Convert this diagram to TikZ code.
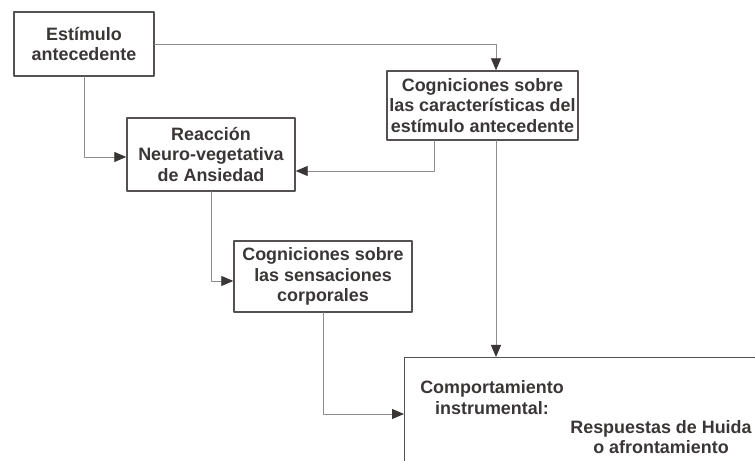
\documentclass[tikz,border=0pt]{standalone}
\usepackage{fontspec}
\setmainfont{Liberation Sans}
\usetikzlibrary{arrows.meta}
\definecolor{txtgray}{HTML}{3A3636}
\definecolor{boxgray}{HTML}{565151}
\definecolor{linegray}{HTML}{8C8C8C}
\tikzset{caja/.style={draw=boxgray, line width=0.8pt, align=center, inner sep=0pt,
    text=txtgray, font=\bfseries\fontsize{10.2}{11.6}\selectfont},
  texto/.style={align=center, inner sep=0pt, text=txtgray, font=\bfseries\fontsize{10.2}{11.6}\selectfont},
  flecha/.style={draw=linegray, line width=0.5pt, -{Triangle[length=0.24cm,width=0.2cm,color=txtgray]}}}
\begin{document}
\begin{tikzpicture}[line cap=round, line join=round]
	\useasboundingbox (0,0) rectangle (15.1,9.22);
	\clip (0,0) rectangle (15.1,9.22);
	% cajas
	\node[caja, minimum width=2.8cm, minimum height=1.28cm] (estimulo) at (1.68,8.34) {Estímulo\\antecedente};
	\node[caja, minimum width=3.82cm, minimum height=1.38cm] (cogest) at (9.65,7.11) {Cogniciones sobre\\las características del\\estímulo antecedente};
	\node[caja, minimum width=3.36cm, minimum height=1.46cm] (reaccion) at (4.22,6.13) {Reacción\\Neuro-vegetativa\\de Ansiedad};
	\node[caja, minimum width=3.56cm, minimum height=1.42cm] (sensac) at (6.46,3.69) {Cogniciones sobre\\las sensaciones\\corporales};
	\node[caja, minimum width=8cm, minimum height=3cm, anchor=north west] (instr) at (8.08,2.08) {};
	\node[texto] (comp) at (9.84,1.27) {Comportamiento\\instrumental:};
	\node[texto] (resp) at (13.22,0.48) {Respuestas de Huida\\o afrontamiento};
	% conectores
	\coordinate (bajaB) at ([xshift=0.27cm]cogest.south);
	\coordinate (bajaB2) at ([xshift=-0.97cm]cogest.south);
	\draw[flecha] (estimulo.east) -| ([xshift=0.27cm]cogest.north);
	\draw[flecha] (estimulo.south) |- ([yshift=-0.05cm]reaccion.west);
	\draw[flecha] (bajaB2) |- ([yshift=-0.33cm]reaccion.east);
	\draw[flecha] (bajaB) -- (bajaB |- instr.north);
	\draw[flecha] (reaccion.south) |- ([yshift=-0.09cm]sensac.west);
	\draw[flecha] (sensac.south) |- ([yshift=-1.14cm]instr.north west);
\end{tikzpicture}
\end{document}
